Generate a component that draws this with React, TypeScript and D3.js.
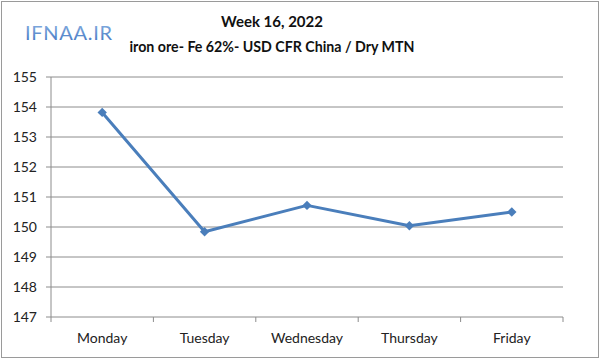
import * as d3 from 'd3';
import React from 'react';

const days = ['Monday', 'Tuesday', 'Wednesday', 'Thursday', 'Friday'];
const prices = [153.82, 149.84, 150.72, 150.04, 150.5];
const yTicks = [147, 148, 149, 150, 151, 152, 153, 154, 155];

const W = 600;
const H = 359;
const margin = { top: 77, right: 37, bottom: 42, left: 51 };
const font = 'Lato, "Open Sans", sans-serif';

const App = () => {
	const x = d3
		.scaleBand()
		.domain(days)
		.range([margin.left, W - margin.right]);
	const y = d3
		.scaleLinear()
		.domain([147, 155])
		.range([H - margin.bottom, margin.top]);

	const cx = (d: string) => (x(d) as number) + x.bandwidth() / 2;
	const line = d3
		.line<number>()
		.x((d, i) => cx(days[i]))
		.y((d) => y(d));
	// excel style diamond = square turned 45deg
	const marker = d3.symbol(d3.symbolSquare, 44)() as string;
	const bounds = [...days.map((d) => x(d) as number), W - margin.right];

	return (
		<svg width={W} height={H} style={{ position: 'absolute', left: 0, top: 0, background: '#fff' }}>
			<rect x={1.5} y={1.5} width={W - 3} height={H - 3} fill="#fff" stroke="#9a9a9a" />
			<defs>
				<linearGradient id="logo" x1="0" y1="0" x2="0" y2="1">
					<stop offset="0" stopColor="#8fb6e4" />
					<stop offset="1" stopColor="#3f73c0" />
				</linearGradient>
			</defs>
			<text x={25} y={40} fontFamily={font} fontSize={20} fill="url(#logo)" letterSpacing={0.7}>
				IFNAA.IR
			</text>
			<text x={272} y={27} textAnchor="middle" fontFamily={font} fontWeight="bold" fontSize={15} fill="#111">
				Week 16, 2022
			</text>
			<text x={272} y={52} textAnchor="middle" fontFamily={font} fontWeight="bold" fontSize={15} fill="#111" textLength={285} lengthAdjust="spacingAndGlyphs">
				iron ore- Fe 62%- USD CFR China / Dry MTN
			</text>
			<g>
				{yTicks.map((t) => (
					<g key={t}>
						<line x1={margin.left - 5} x2={W - margin.right} y1={y(t)} y2={y(t)} stroke="#8c8c8c" strokeWidth={1} />
						<text x={37} y={y(t)} dy="0.35em" textAnchor="end" fontFamily={font} fontSize={14} fill="#222">
							{t}
						</text>
					</g>
				))}
				<line x1={margin.left} x2={margin.left} y1={y(155)} y2={y(147)} stroke="#8c8c8c" />
				{bounds.map((b, i) => (
					<line key={i} x1={b} x2={b} y1={y(147)} y2={y(147) + 5} stroke="#8c8c8c" />
				))}
				{days.map((d) => (
					<text key={d} x={cx(d)} y={y(147) + 26} textAnchor="middle" fontFamily={font} fontSize={14} fill="#222">
						{d}
					</text>
				))}
			</g>
			<path d={line(prices) as string} fill="none" stroke="#4a7ebb" strokeWidth={3} strokeLinejoin="round" />
			{prices.map((p, i) => (
				<path key={i} d={marker} transform={`translate(${cx(days[i])},${y(p)}) rotate(45)`} fill="#4a7ebb" />
			))}
		</svg>
	);
};

export default App;
